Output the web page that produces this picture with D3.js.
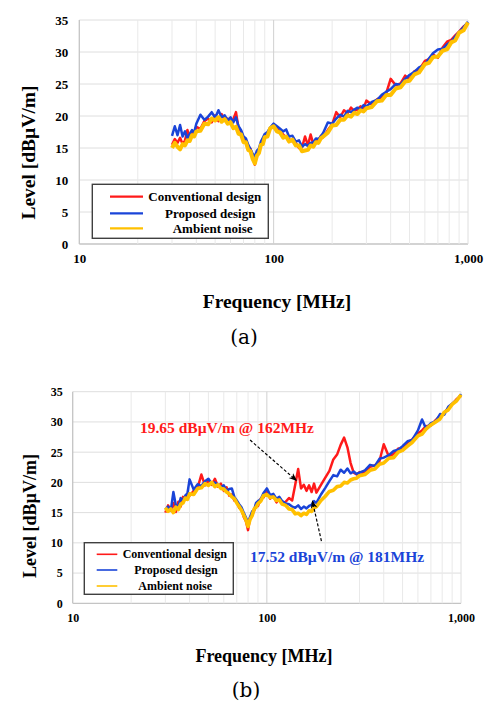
<!DOCTYPE html>
<html><head><meta charset="utf-8">
<script src="https://cdn.jsdelivr.net/npm/d3@7"></script>
<style>body{margin:0;background:#fff;} svg{display:block;}</style>
</head><body><svg id="c" width="485" height="702"></svg>
<script>
// ---------- data ----------
const freqMHz = [
  30,31,32,33,34,35,36,37,38,39,
  40,42,44,46,48,50,52,54,56,58,
  60,62,64,66,68,70,72,74,76,78,
  80,82,84,86,88,90,93,96,100,104,
  108,112,116,120,125,130,135,140,145,150,
  155,160,165,170,175,180,190,200,210,220,
  230,240,250,260,270,280,290,300,320,340,
  360,380,400,425,450,475,500,530,560,600,
  630,660,700,740,780,820,860,900,950,1000];
const yTickValues = [0,5,10,15,20,25,30,35];
const xTickValues = [10,100,1000];
const gridFreqs = [20,30,40,50,60,70,80,90,100,200,300,400,500,600,700,800,900];
const seriesNames = ["Conventional design","Proposed design","Ambient noise"];
const seriesColors = ["#ff1a1a","#1a44d8","#ffc000"];

// (a)
const conventionalA = [
  15.5,16.4,15.8,16.6,15.6,16.2,17.8,16.6,17.5,17.0,
  18.3,18.0,19.2,19.6,19.0,20.1,19.2,20.3,19.4,19.6,
  18.9,19.5,20.6,18.0,17.6,16.5,16.2,15.2,14.9,13.6,
  12.4,14.0,14.8,15.4,16.2,16.5,17.4,18.0,18.7,18.0,
  17.5,17.1,16.6,16.4,16.0,15.8,15.0,15.1,16.8,15.4,
  17.1,15.6,16.3,16.0,16.9,16.7,17.8,18.7,20.6,19.8,
  20.9,20.4,21.3,20.8,21.0,21.5,21.2,22.4,21.8,22.6,
  23.0,23.6,25.8,24.8,25.1,26.3,25.8,27.0,27.2,28.6,
  28.9,29.6,29.1,30.7,31.6,31.9,32.6,33.2,34.0,34.5];
const proposedA = [
  16.9,18.4,17.0,18.6,16.8,17.6,16.5,17.2,17.8,17.4,
  18.8,20.2,19.4,19.9,20.6,19.7,20.9,19.8,20.1,19.3,
  19.8,19.0,19.8,18.4,17.8,16.8,16.5,15.5,14.8,14.1,
  13.7,14.6,14.9,16.0,16.6,17.2,17.5,18.2,18.8,18.4,
  18.0,17.6,17.9,16.8,16.9,16.0,16.2,15.2,15.6,15.3,
  15.8,15.9,16.5,16.4,16.8,17.4,19.0,18.8,19.6,20.2,
  19.9,20.8,20.6,21.0,21.3,21.0,21.7,21.5,22.2,22.5,
  23.3,23.8,24.2,25.0,24.9,25.8,26.4,26.9,27.6,28.0,
  29.0,29.8,30.4,30.5,31.2,31.6,32.4,33.1,33.9,34.7];
const ambientA = [
  15.0,15.8,15.2,14.8,15.6,15.4,16.2,16.1,17.0,16.8,
  17.6,17.7,18.8,18.7,19.6,19.3,19.8,19.1,19.5,18.8,
  19.0,18.1,18.3,17.2,17.1,15.9,15.9,14.7,14.5,13.3,
  12.6,13.8,14.2,15.5,15.6,16.7,16.8,18.1,18.4,17.6,
  17.4,16.6,16.8,16.0,16.3,15.4,15.4,14.5,14.6,14.7,
  15.4,15.2,15.9,15.8,16.5,16.8,17.4,18.5,18.6,19.4,
  19.4,20.1,19.9,20.5,20.3,20.9,20.7,21.2,21.4,22.3,
  22.4,23.3,23.3,24.3,24.5,25.4,25.5,26.5,26.8,28.1,
  28.3,29.2,29.3,30.2,30.4,31.5,31.8,33.0,33.4,34.6];

// (b)
const conventionalB = [
  15.0,16.2,15.4,16.6,15.1,16.8,16.0,17.6,17.2,18.0,
  17.8,18.6,19.1,21.3,19.5,20.3,19.6,20.6,19.3,19.8,
  18.6,19.2,17.8,18.0,17.0,16.8,15.8,15.6,14.3,13.6,
  12.1,14.1,14.6,15.3,16.3,16.1,17.3,17.5,18.4,17.3,
  17.8,16.7,17.3,16.5,16.8,17.4,17.0,19.6,22.2,19.0,
  19.6,18.6,19.5,18.4,19.8,18.3,19.6,20.8,21.9,23.8,
  24.6,26.2,27.4,25.8,23.2,21.6,21.3,21.7,21.5,22.6,
  22.8,23.5,26.3,24.3,24.7,25.6,25.5,26.6,27.1,28.1,
  28.6,29.3,29.4,30.3,31.0,31.5,32.3,32.9,33.8,34.3];
const proposedB = [
  15.5,16.0,15.3,18.4,16.2,16.0,17.4,17.0,17.8,18.2,
  20.5,18.8,19.7,19.4,20.2,20.6,19.8,20.0,19.6,19.2,
  19.5,18.6,18.9,19.0,17.6,17.0,16.4,15.9,15.0,14.2,
  13.4,14.3,15.2,15.5,16.6,16.9,17.2,18.2,19.0,17.9,
  18.1,17.3,17.6,16.9,16.5,16.4,16.0,15.8,16.2,15.6,
  16.0,15.7,16.1,16.3,16.9,16.6,18.0,19.1,20.2,21.2,
  21.0,22.1,21.6,22.3,21.5,21.8,21.4,21.6,22.0,22.9,
  22.7,23.9,24.1,24.5,25.2,25.4,26.0,26.8,27.0,28.6,
  30.4,28.9,29.8,30.1,31.3,31.2,32.5,33.0,33.6,34.6];
const ambientB = [
  15.8,15.2,15.6,15.0,15.9,15.5,16.4,16.6,17.4,17.2,
  18.1,18.0,19.0,19.1,19.8,19.5,20.0,19.3,19.6,19.0,
  18.9,18.4,18.1,17.6,17.3,16.6,16.0,15.4,14.6,13.8,
  12.7,13.9,14.5,15.6,15.9,16.5,16.9,17.8,18.0,17.5,
  17.6,17.0,17.1,16.4,16.2,15.6,15.5,14.8,14.9,14.5,
  14.9,14.7,15.3,15.2,15.8,16.0,17.0,17.7,18.5,18.7,
  19.3,19.4,20.0,19.9,20.4,20.6,20.7,21.1,21.3,22.0,
  22.2,23.0,23.2,24.0,24.1,25.0,25.3,26.0,26.6,27.7,
  28.0,28.8,29.5,30.0,30.5,31.6,32.0,32.9,33.5,34.5];

// annotations of (b), in data units (MHz, dBµV/m)
const annotationTexts = ["19.65 dBµV/m @ 162MHz","17.52 dBµV/m @ 181MHz"];
const annotationColors = ["#ff1a1a","#1a44d8"];
const annotationTextAt = [[22.2,29.0],[82,7.8]];
const annotationFrom = [[82,27.0],[191,10.3]];
const annotationTo = [[141,20.4],[172,16.8]];

// ---------- drawing ----------
const svg = d3.select("#c");
const SERIF = "'Liberation Serif','Times New Roman',serif";

svg.append("defs").append("marker")
  .attr("id","ah").attr("viewBox","0 0 10 10").attr("refX",8).attr("refY",5)
  .attr("markerWidth",7).attr("markerHeight",7).attr("orient","auto")
  .append("path").attr("d","M0,1 L10,5 L0,9 L3,5 Z").attr("fill","#000");

function drawChart(L, series, annot) {
  const x = d3.scaleLog().domain([10,1000]).range([L.left, L.right]);
  const y = d3.scaleLinear().domain([0,35]).range([L.bottom, L.top]);
  const g = svg.append("g");

  // grid
  g.selectAll(".hg").data(yTickValues).join("line")
    .attr("x1",L.left).attr("x2",L.right)
    .attr("y1",d=>y(d)).attr("y2",d=>y(d))
    .attr("stroke",d=>d===0?"#c4c4c4":"#dedede").attr("stroke-width",d=>d===0?1.3:1);
  g.selectAll(".vg").data(gridFreqs).join("line")
    .attr("x1",d=>x(d)).attr("x2",d=>x(d))
    .attr("y1",L.top).attr("y2",L.bottom)
    .attr("stroke",d=>d===100?"#d0d0d0":"#e9e9e9").attr("stroke-width",1);
  g.append("line").attr("x1",L.left).attr("x2",L.left).attr("y1",L.top).attr("y2",L.bottom)
    .attr("stroke","#c4c4c4").attr("stroke-width",1.3);
  g.append("line").attr("x1",L.right).attr("x2",L.right).attr("y1",L.top).attr("y2",L.bottom)
    .attr("stroke","#dedede").attr("stroke-width",1);

  // axes (labels only)
  const ya = g.append("g").attr("transform",`translate(${L.left},0)`)
    .call(d3.axisLeft(y).tickValues(yTickValues).tickSize(0).tickPadding(L.yPad).tickFormat(d3.format("d")));
  const xa = g.append("g").attr("transform",`translate(0,${L.bottom})`)
    .call(d3.axisBottom(x).tickValues(xTickValues).tickSize(0).tickPadding(L.xPad).tickFormat(d3.format(",")));
  [ya,xa].forEach(a=>{
    a.select(".domain").remove();
    a.selectAll("text").attr("font-family",SERIF).attr("font-weight","bold")
      .attr("font-size",L.tickFont).attr("fill","#000");
  });

  // series
  const line = d3.line().x((d,i)=>x(freqMHz[i])).y(d=>y(d));
  series.forEach((s,k)=>{
    g.append("path").datum(s).attr("d",line).attr("fill","none")
      .attr("stroke",seriesColors[k]).attr("stroke-width",L.widths[k])
      .attr("stroke-linejoin","round");
  });

  // annotations
  if (annot) {
    annotationTexts.forEach((t,i)=>{
      g.append("line")
        .attr("x1",x(annotationFrom[i][0])).attr("y1",y(annotationFrom[i][1]))
        .attr("x2",x(annotationTo[i][0])).attr("y2",y(annotationTo[i][1]))
        .attr("stroke","#000").attr("stroke-width",1.2).attr("stroke-dasharray","3,2")
        .attr("marker-end","url(#ah)");
      g.append("text").text(t)
        .attr("x",x(annotationTextAt[i][0])).attr("y",y(annotationTextAt[i][1]))
        .attr("dominant-baseline","central")
        .attr("font-family",SERIF).attr("font-weight","bold").attr("font-size",15.5)
        .attr("fill",annotationColors[i]);
    });
  }

  // legend
  const lg = L.legend;
  g.append("rect").attr("x",lg.x).attr("y",lg.y).attr("width",lg.w).attr("height",lg.h)
    .attr("fill","#fff").attr("stroke","#404040").attr("stroke-width",1.4);
  seriesNames.forEach((n,k)=>{
    g.append("line").attr("x1",lg.lx1).attr("x2",lg.lx2)
      .attr("y1",lg.rows[k]).attr("y2",lg.rows[k])
      .attr("stroke",seriesColors[k]).attr("stroke-width",lg.lw);
    g.append("text").text(n).attr("x",lg.tx[k]).attr("y",lg.rows[k])
      .attr("dominant-baseline","central")
      .attr("font-family",SERIF).attr("font-weight","bold").attr("font-size",lg.font).attr("fill","#000");
  });

  // titles
  g.append("text").text("Level [dBµV/m]")
    .attr("transform",`translate(${L.yTitle[0]},${L.yTitle[1]}) rotate(-90)`)
    .attr("text-anchor","middle").attr("dominant-baseline","central")
    .attr("font-family",SERIF).attr("font-weight","bold").attr("font-size",L.titleFont);
  g.append("text").text("Frequency [MHz]")
    .attr("x",L.xTitle[0]).attr("y",L.xTitle[1])
    .attr("text-anchor","middle").attr("dominant-baseline","central")
    .attr("font-family",SERIF).attr("font-weight","bold").attr("font-size",L.titleFont);
  g.append("text").text(L.caption)
    .attr("x",L.cap[0]).attr("y",L.cap[1])
    .attr("text-anchor","middle").attr("dominant-baseline","central")
    .attr("font-family","'DejaVu Serif',serif").attr("font-size",20);
}

drawChart({
  left:79.3, right:468, top:20, bottom:244, yPad:11, xPad:10, tickFont:13, titleFont:19.5,
  yTitle:[28.7,152.5], xTitle:[277,301], cap:[244,336.5], caption:"(a)",
  widths:[2.5,2.5,4],
  legend:{x:92.3,y:184.3,w:176,h:54,lx1:110,lx2:143,rows:[196.7,213.3,228.3],tx:[148.3,165,172.7],font:13,lw:2.2}
}, [conventionalA, proposedA, ambientA], false);

drawChart({
  left:72.7, right:461, top:391.7, bottom:603.3, yPad:10, xPad:10, tickFont:12, titleFont:18,
  yTitle:[29.5,516], xTitle:[264,656], cap:[246,689.5], caption:"(b)",
  widths:[2.5,2.5,3.6],
  legend:{x:84.3,y:542.7,w:149,h:51.6,lx1:96.7,lx2:117.3,rows:[554.3,570,586],tx:[122.7,134.3,138.3],font:12,lw:1.6}
}, [conventionalB, proposedB, ambientB], true);
</script>
</body></html>
